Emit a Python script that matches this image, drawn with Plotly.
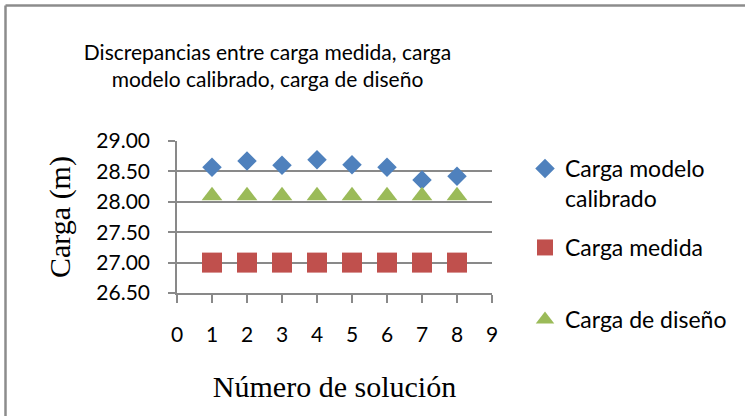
import plotly.graph_objects as go

soluciones = [1, 2, 3, 4, 5, 6, 7, 8]
carga_modelo = [28.57, 28.67, 28.60, 28.69, 28.61, 28.57, 28.36, 28.42]
carga_medida = [27.00, 27.00, 27.00, 27.00, 27.00, 27.00, 27.00, 27.00]
carga_diseno = [28.10, 28.10, 28.10, 28.10, 28.10, 28.10, 28.10, 28.10]

W, H = 745, 416
L, R, T, B = 177, 253, 141, 123
pw, ph = W - L - R, H - T - B

def px(x):
    return (x - L) / pw

def py(y):
    return (H - B - y) / ph

LEG_FONT = dict(family="Lato", size=23, color="#000000")
BORDER = dict(color="#8c8c8c", width=2.5)

fig = go.Figure()
fig.add_trace(go.Scatter(
    x=soluciones, y=carga_modelo, mode="markers", name="Carga modelo<br>calibrado",
    marker=dict(symbol="diamond", size=15, color="#4F81BD"), legend="legend"))
fig.add_trace(go.Scatter(
    x=soluciones, y=carga_medida, mode="markers", name="Carga medida",
    marker=dict(symbol="square", size=20, color="#C0504D"), legend="legend2"))
fig.add_trace(go.Scatter(
    x=soluciones, y=carga_diseno, mode="markers", name="Carga de diseño",
    marker=dict(symbol="triangle-up", size=18, color="#9BBB59"), legend="legend3"))

def leg(y):
    return dict(x=px(525), y=py(y), xanchor="left", yanchor="top",
                bgcolor="rgba(0,0,0,0)", borderwidth=0, font=LEG_FONT,
                valign="top", itemclick=False, itemdoubleclick=False)

fig.update_layout(
    width=W, height=H,
    margin=dict(l=L, r=R, t=T, b=B, autoexpand=False),
    paper_bgcolor="white", plot_bgcolor="white",
    showlegend=True,
    legend=leg(147), legend2=leg(226), legend3=leg(298),
    title=dict(
        text="Discrepancias entre carga medida, carga<br>modelo calibrado, carga de diseño",
        x=267.5 / W, xref="container", xanchor="center",
        y=1 - 60 / H, yref="container", yanchor="middle",
        font=dict(family="Lato", size=21, color="#000000")),
    xaxis=dict(
        range=[0, 9], dtick=1, tick0=0, showgrid=False, zeroline=False,
        showline=True, linecolor="#898989", linewidth=1.5,
        ticks="outside", ticklen=8, tickcolor="#898989", tickwidth=1.5,
        ticklabelstandoff=14, automargin=False,
        tickfont=dict(family="Lato", size=21, color="#000000"),
        title=dict(text="Número de solución", standoff=31,
                   font=dict(family="Liberation Serif", size=30, color="#000000"))),
    yaxis=dict(
        range=[26.5, 29], dtick=0.5, tick0=26.5, tickformat=".2f",
        showgrid=True, gridcolor="#898989", gridwidth=1.5, zeroline=False,
        showline=True, linecolor="#898989", linewidth=1.5,
        ticks="outside", ticklen=7, tickcolor="#898989", tickwidth=1.5,
        ticklabelstandoff=14, automargin=False,
        tickfont=dict(family="Lato", size=21, color="#000000"),
        title=dict(text="Carga (m)", standoff=17,
                   font=dict(family="Liberation Serif", size=30, color="#000000"))),
    shapes=[
        dict(type="line", xref="paper", yref="paper",
             x0=px(5.5), x1=px(745), y0=py(5.5), y1=py(5.5), line=BORDER),
        dict(type="line", xref="paper", yref="paper",
             x0=px(5.5), x1=px(5.5), y0=py(5.5), y1=py(416), line=BORDER),
    ],
)

fig.write_html("out.html", config={"displayModeBar": False},
               post_script="document.body.style.margin='0';")
